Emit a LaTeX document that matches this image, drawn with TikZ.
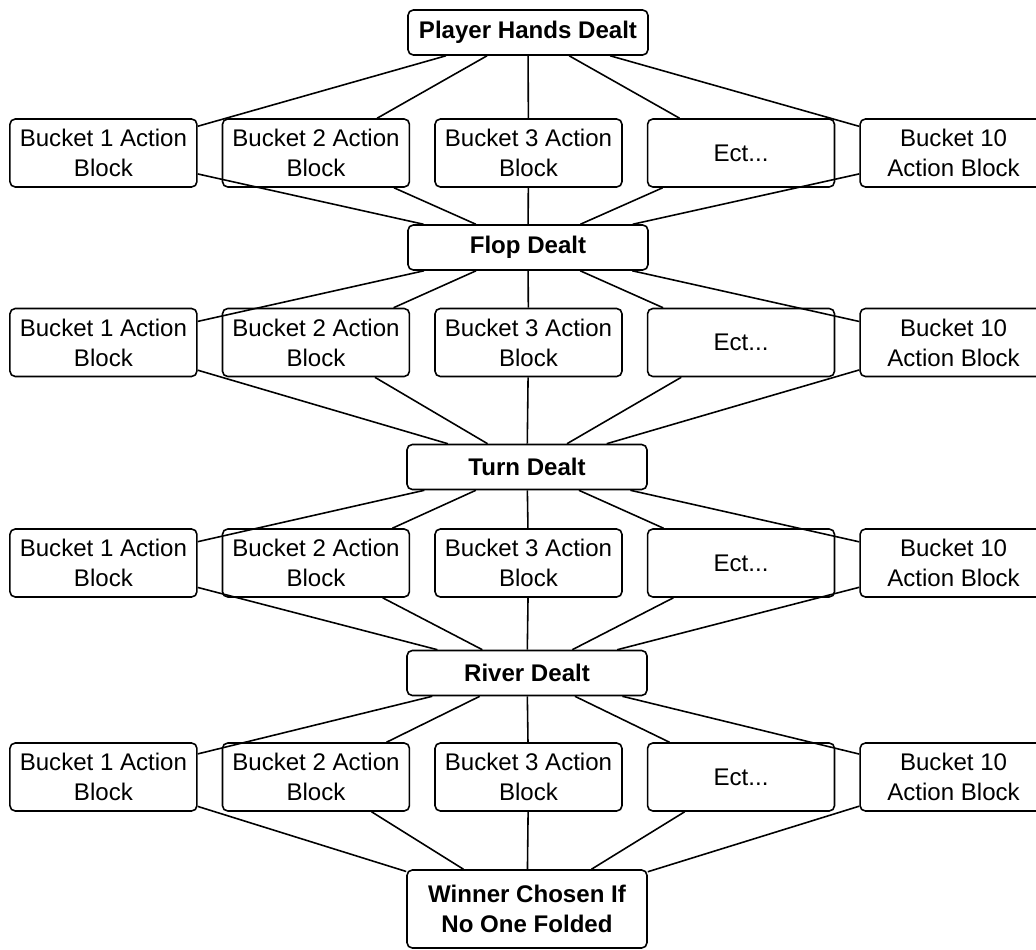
\documentclass[tikz,border=0pt]{standalone}
\usepackage{fontspec}
\setmainfont{Liberation Sans}
\usetikzlibrary{positioning}

\begin{document}
\begin{tikzpicture}[
    x=0.02cm, y=-0.02cm,
    node distance=0.48cm,
    every node/.style={font=\fontsize{13.7}{17}\selectfont},
    bucket/.style={draw, line width=0.9pt, rounded corners=3pt, minimum width=3.74cm, minimum height=1.36cm, inner sep=0pt, align=center},
    stage/.style={bucket, minimum width=4.8cm, minimum height=0.9cm, font=\fontsize{13.7}{17}\selectfont\bfseries},
    link/.style={line width=0.9pt},
]

    % page frame
    \clip (0,0) rectangle (1036,950);

    % 1. Pre-flop
    \node[stage] (hands_dealt) at (528,32.5) {Player Hands Dealt};
    \node[bucket] (pre_b3) at (528.5,153) {Bucket 3 Action\\Block};
    \node[bucket, left=of pre_b3] (pre_b2) {Bucket 2 Action\\Block};
    \node[bucket, left=of pre_b2] (pre_b1) {Bucket 1 Action\\Block};
    \node[bucket, right=of pre_b3] (pre_ect) {Ect...};
    \node[bucket, right=of pre_ect] (pre_b10) {Bucket 10\\Action Block};

    % 2. Flop
    \node[stage] (flop_dealt) at (528,247.5) {Flop Dealt};
    \node[bucket] (flop_b3) at (528.5,342.5) {Bucket 3 Action\\Block};
    \node[bucket, left=of flop_b3] (flop_b2) {Bucket 2 Action\\Block};
    \node[bucket, left=of flop_b2] (flop_b1) {Bucket 1 Action\\Block};
    \node[bucket, right=of flop_b3] (flop_ect) {Ect...};
    \node[bucket, right=of flop_ect] (flop_b10) {Bucket 10\\Action Block};

    % 3. Turn
    \node[stage] (turn_dealt) at (527,467) {Turn Dealt};
    \node[bucket] (turn_b3) at (528.5,563) {Bucket 3 Action\\Block};
    \node[bucket, left=of turn_b3] (turn_b2) {Bucket 2 Action\\Block};
    \node[bucket, left=of turn_b2] (turn_b1) {Bucket 1 Action\\Block};
    \node[bucket, right=of turn_b3] (turn_ect) {Ect...};
    \node[bucket, right=of turn_ect] (turn_b10) {Bucket 10\\Action Block};

    % 4. River
    \node[stage] (river_dealt) at (527,673) {River Dealt};
    \node[bucket] (river_b3) at (528.5,777) {Bucket 3 Action\\Block};
    \node[bucket, left=of river_b3] (river_b2) {Bucket 2 Action\\Block};
    \node[bucket, left=of river_b2] (river_b1) {Bucket 1 Action\\Block};
    \node[bucket, right=of river_b3] (river_ect) {Ect...};
    \node[bucket, right=of river_ect] (river_b10) {Bucket 10\\Action Block};

    % 5. Showdown
    \node[stage, minimum height=1.56cm, align=center] (winner) at (527,909) {Winner Chosen If\\No One Folded};

    % --- Connections ---
    \draw[link] (hands_dealt) -- (pre_b1) -- (flop_dealt)
                (hands_dealt) -- (pre_b2) -- (flop_dealt)
                (hands_dealt) -- (pre_b3) -- (flop_dealt)
                (hands_dealt) -- (pre_ect) -- (flop_dealt)
                (hands_dealt) -- (pre_b10) -- (flop_dealt);

    \draw[link] (flop_dealt) -- (flop_b1) -- (turn_dealt)
                (flop_dealt) -- (flop_b2) -- (turn_dealt)
                (flop_dealt) -- (flop_b3) -- (turn_dealt)
                (flop_dealt) -- (flop_ect) -- (turn_dealt)
                (flop_dealt) -- (flop_b10) -- (turn_dealt);

    \draw[link] (turn_dealt) -- (turn_b1) -- (river_dealt)
                (turn_dealt) -- (turn_b2) -- (river_dealt)
                (turn_dealt) -- (turn_b3) -- (river_dealt)
                (turn_dealt) -- (turn_ect) -- (river_dealt)
                (turn_dealt) -- (turn_b10) -- (river_dealt);

    \draw[link] (river_dealt) -- (river_b1) -- (winner)
                (river_dealt) -- (river_b2) -- (winner)
                (river_dealt) -- (river_b3) -- (winner)
                (river_dealt) -- (river_ect) -- (winner)
                (river_dealt) -- (river_b10) -- (winner);

\end{tikzpicture}
\end{document}
